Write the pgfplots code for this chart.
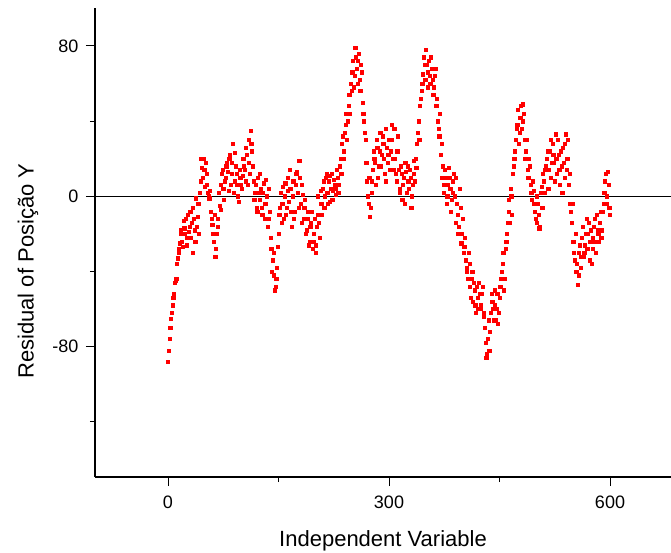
\documentclass[border=0pt]{standalone}
\usepackage{fontspec}
\setmainfont{Liberation Sans}
\usepackage{pgfplots}
\pgfplotsset{compat=1.18}
\usepackage{pgfplotstable}
\pgfplotstableread{
x y
0 -88
2 -76
4 -65
6 -58
8 -52
10 -45
12 -36
14 -30
16 -25
18 -20
20 -27
22 -17
24 -12
26 -22
28 -19
30 -8
32 -14
34 -30
36 -18
38 -1
40 -11
42 -20
44 8
46 15
48 20
50 5
52 12
54 2
56 -1
58 -8
60 -15
62 -24
64 -32
66 -20
68 -12
70 -5
72 6
74 14
76 -2
78 10
80 18
82 3
84 22
86 12
88 28
90 8
92 16
94 6
96 -3
98 10
100 4
102 20
104 14
106 26
108 6
110 18
112 35
114 24
116 8
118 2
120 -6
122 10
124 -2
126 4
128 -10
130 7
132 -4
134 0
136 -12
138 -8
140 -28
142 -34
144 -42
146 -48
148 -38
150 -20
152 -6
154 -14
156 5
158 0
160 -10
162 10
164 -3
166 4
168 -16
170 8
172 -8
174 12
176 2
178 19
180 -4
182 6
184 -12
186 -2
188 -18
190 -8
192 -24
194 -14
196 -28
198 -20
200 -30
202 -16
204 -10
206 -22
208 -4
210 4
212 -6
214 10
216 2
218 8
220 -3
222 12
224 3
226 6
228 1
230 10
232 6
234 20
236 28
238 24
240 34
242 44
244 40
246 54
248 60
250 66
252 58
254 79
256 68
258 72
260 62
262 70
264 50
266 40
268 30
270 8
272 -4
274 -11
276 2
278 14
280 20
282 6
284 26
286 16
288 34
290 22
292 28
294 12
296 36
298 18
300 30
302 24
304 38
306 14
308 20
310 8
312 32
314 4
316 16
318 -2
320 10
322 18
324 2
326 8
328 14
330 -6
332 6
334 12
336 20
338 28
340 40
342 48
344 56
346 65
348 70
350 78
352 66
354 72
356 60
358 68
360 54
362 64
364 48
366 40
368 32
370 22
372 10
374 2
376 14
378 -4
380 6
382 10
384 -8
386 2
388 12
390 -14
392 -4
394 -20
396 4
398 -25
400 -12
402 -27
404 -34
406 -40
408 -30
410 -48
412 -44
414 -56
416 -50
418 -62
420 -54
422 -46
424 -60
426 -52
428 -64
430 -70
432 -86
434 -76
436 -82
438 -62
440 -56
442 -66
444 -50
446 -60
448 -68
450 -54
452 -44
454 -36
456 -50
458 -28
460 -20
462 -8
464 -14
466 0
468 12
470 20
472 30
474 38
476 28
478 42
480 36
482 49
484 30
486 24
488 14
490 20
492 6
494 -2
496 3
498 -8
500 -14
502 -4
504 -17
506 2
508 -6
510 8
512 14
514 20
516 4
518 24
520 10
522 28
524 18
526 33
528 12
530 22
532 6
534 16
536 26
538 10
540 33
542 20
544 6
546 -4
548 -14
550 -24
552 -34
554 -40
556 -47
558 -30
560 -38
562 -22
564 -32
566 -26
568 -12
570 -20
572 -34
574 -18
576 -28
578 -16
580 -24
582 -10
584 -20
586 -14
588 -22
590 -8
592 2
594 12
596 -4
598 6
600 -10
1 -82
3 -70
5 -62
7 -54
9 -46
11 -44
13 -33
15 -28
17 -18
19 -24
21 -13
23 -20
25 -26
27 -10
29 -16
31 -22
33 -6
35 -12
37 -24
39 -16
41 -4
43 2
45 20
47 10
49 14
51 18
53 6
55 0
57 3
59 -12
61 -20
63 -10
65 -28
67 -16
69 2
71 -7
73 12
75 4
77 8
79 16
81 13
83 20
85 6
87 18
89 2
91 23
93 12
95 0
97 14
99 6
101 11
103 16
105 8
107 22
109 30
111 12
113 28
115 16
117 -2
119 6
121 -8
123 2
125 12
127 -6
129 2
131 -12
133 9
135 -16
137 4
139 -22
141 -40
143 -30
145 -50
147 -44
149 -27
151 -10
153 2
155 -4
157 -12
159 7
161 -6
163 3
165 14
167 -8
169 0
171 -12
173 6
175 13
177 -6
179 10
181 -14
183 1
185 -6
187 -20
189 -12
191 -26
193 -16
195 -8
197 -24
199 -12
201 -26
203 0
205 -14
207 3
209 -10
211 8
213 0
215 12
217 -4
219 11
221 4
223 -2
225 9
227 4
229 14
231 2
233 16
235 12
237 32
239 20
241 38
243 30
245 48
247 44
249 56
251 72
253 64
255 74
257 60
259 76
261 56
263 66
265 44
267 34
269 18
271 0
273 10
275 -6
277 8
279 24
281 18
283 30
285 10
287 24
289 16
291 32
293 20
295 8
297 26
299 22
301 14
303 30
305 20
307 36
309 12
311 24
313 14
315 2
317 12
319 6
321 -4
323 13
325 16
327 4
329 10
331 0
333 19
335 8
337 15
339 34
341 30
343 52
345 60
347 74
349 62
351 70
353 58
355 64
357 74
359 62
361 58
363 68
365 52
367 36
369 44
371 28
373 16
375 6
377 10
379 0
381 15
383 4
385 -2
387 8
389 0
391 10
393 -10
395 -16
397 -6
399 -20
401 -30
403 -22
405 -38
407 -44
409 -36
411 -54
413 -40
415 -46
417 -58
419 -48
421 -60
423 -52
425 -58
427 -48
429 -62
431 -78
433 -84
435 -66
437 -72
439 -52
441 -60
443 -58
445 -66
447 -52
449 -62
451 -48
453 -40
455 -30
457 -44
459 -24
461 -14
463 -2
465 4
467 -10
469 16
471 24
473 36
475 46
477 34
479 48
481 40
483 44
485 20
487 30
489 10
491 16
493 2
495 8
497 -4
499 -12
501 0
503 -10
505 -16
507 5
509 12
511 2
513 16
515 24
517 14
519 30
521 18
523 22
525 8
527 20
529 30
531 14
533 24
535 2
537 18
539 28
541 14
543 30
545 12
547 -8
549 -4
551 -30
553 -20
555 -36
557 -42
559 -26
561 -32
563 -16
565 -30
567 -20
569 -28
571 -14
573 -24
575 -36
577 -22
579 -12
581 -30
583 -18
585 -24
587 -8
589 -18
591 -4
593 8
595 0
597 13
599 -6
}\resid
\begin{document}
\begin{tikzpicture}
\path[use as bounding box] (-95pt,-75pt) rectangle (576pt,477pt);
\begin{axis}[
  at={(0pt,0pt)}, anchor=south west,
  scale only axis, width=576pt, height=469pt,
  xmin=-99.1, xmax=682.8, ymin=-149.4, ymax=100.2,
  axis lines=left,
  axis line style={-, line width=1.3pt},
  xtick={0,300,600}, ytick={-80,0,80},
  minor xtick={150,450}, minor ytick={-120,-40,40},
  tick align=outside,
  major tick length=9pt, minor tick length=5pt,
  every tick/.style={black, line width=1pt},
  /pgf/number format/assume math mode=true,
  tick label style={font=\fontsize{18}{21}\selectfont},
  xticklabel style={yshift=-6pt},
  yticklabel style={xshift=-4pt},
  xlabel={Independent Variable},
  ylabel={Residual of Posição Y},
  every axis x label/.style={at={(axis description cs:0.5,0)}, anchor=center, yshift=-63.5pt, font=\fontsize{22}{26}\selectfont},
  every axis y label/.style={at={(axis description cs:0,0.439)}, anchor=center, rotate=90, yshift=67pt, font=\fontsize{22}{26}\selectfont},
  clip=false,
]
\addplot[only marks, mark=square*, mark size=1.6pt, color=red, mark options={draw=red, fill=red}] table[x=x, y=y] {\resid};
\addplot[black, line width=1.3pt] coordinates {(-99.1,0) (682.8,0)};
\end{axis}
\end{tikzpicture}
\end{document}
